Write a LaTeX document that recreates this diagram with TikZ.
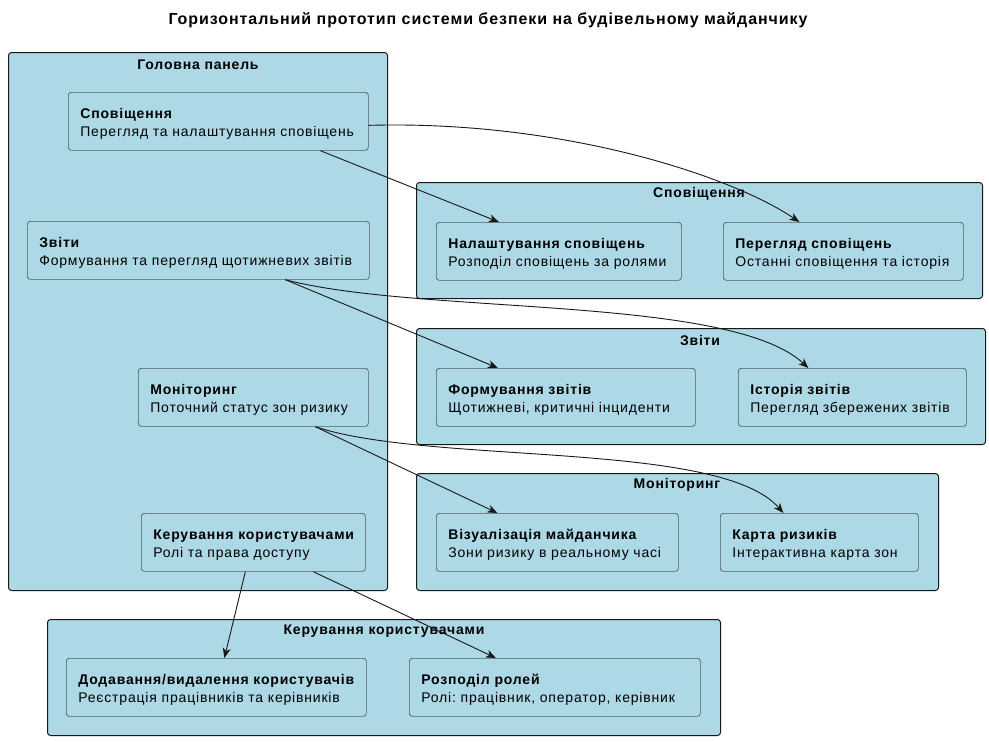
\documentclass[tikz,border=0pt]{standalone}
\usepackage{fontspec}
\setmainfont{Liberation Sans}[LetterSpace=5.8]
\usetikzlibrary{arrows.meta}
\definecolor{panelblue}{HTML}{ADD8E6}
\definecolor{edgegray}{HTML}{181818}
\definecolor{boxgray}{HTML}{4F5B61}
\newcommand{\boxlines}[2]{\mbox{\rule{0pt}{15pt}\textbf{#1}}\\\mbox{#2}}
\frenchspacing

\begin{document}
\begin{tikzpicture}[x=1pt, y=-1pt,
	every node/.style={font=\fontsize{14}{18}\selectfont},
	group/.style={draw=edgegray, line width=1pt, fill=panelblue, rounded corners=3pt, anchor=north west, inner sep=0pt},
	grouptitle/.style={font=\fontsize{14}{18}\selectfont\bfseries, anchor=center},
	item/.style={draw=boxgray, line width=0.7pt, fill=panelblue, rounded corners=3pt, anchor=north west, align=left, inner xsep=12pt, inner ysep=0pt, minimum height=58pt},
	link/.style={draw=edgegray, line width=0.9pt, -{Stealth[length=10pt, width=8pt, inset=3pt]}}]
			\useasboundingbox (0,0) rectangle (989,742);
			\node[grouptitle, font=\fontsize{16}{18}\selectfont\bfseries] (title) at (488,20) {Горизонтальний прототип системи безпеки на будівельному майданчику};
			% main panel
			\node[group, minimum width=379pt, minimum height=538pt] (main) at (8,52) {};
			\node[grouptitle] (mainT) at (198,65) {Головна панель};
			\node[item, text width=276pt] (notif) at (68,92) {\boxlines{Сповіщення}{Перегляд та налаштування сповіщень}};
			\node[item, text width=318pt] (reports) at (27,221) {\boxlines{Звіти}{Формування та перегляд щотижневих звітів}};
			\node[item, text width=206pt] (monitor) at (138,368) {\boxlines{Моніторинг}{Поточний статус зон ризику}};
			\node[item, text width=200pt] (users) at (141,513) {\boxlines{Керування користувачами}{Ролі та права доступу}};
			% notifications
			\node[group, minimum width=566pt, minimum height=116pt] (gNotif) at (416,182) {};
			\node[grouptitle] (gNotifT) at (699,194) {Сповіщення};
			\node[item, text width=221pt] (notifSet) at (436,222) {\boxlines{Налаштування сповіщень}{Розподіл сповіщень за ролями}};
			\node[item, text width=216pt] (notifView) at (723,222) {\boxlines{Перегляд сповіщень}{Останні сповіщення та історія}};
			% reports
			\node[group, minimum width=569pt, minimum height=116pt] (gReports) at (416,328) {};
			\node[grouptitle] (gReportsT) at (700,340) {Звіти};
			\node[item, text width=235pt] (repMake) at (436,368) {\boxlines{Формування звітів}{Щотижневі, критичні інциденти}};
			\node[item, text width=204pt] (repHist) at (738,368) {\boxlines{Історія звітів}{Перегляд збережених звітів}};
			% monitoring
			\node[group, minimum width=522pt, minimum height=117pt] (gMonitor) at (416,473) {};
			\node[grouptitle] (gMonitorT) at (677,485) {Моніторинг};
			\node[item, text width=218pt] (monVis) at (436,513) {\boxlines{Візуалізація майданчика}{Зони ризику в реальному часі}};
			\node[item, text width=174pt] (monMap) at (720,513) {\boxlines{Карта ризиків}{Інтерактивна карта зон}};
			% users
			\node[group, minimum width=673pt, minimum height=116pt] (gUsers) at (47,619) {};
			\node[grouptitle] (gUsersT) at (384,631) {Керування користувачами};
			\node[item, text width=276pt] (usrAdd) at (66,658) {\boxlines{Додавання/видалення користувачів}{Реєстрація працівників та керівників}};
			\node[item, text width=267pt] (usrRoles) at (409,658) {\boxlines{Розподіл ролей}{Ролі: працівник, оператор, керівник}};
			% links
			\draw[link] ([xshift=102pt]notif.south) -- ([xshift=-60pt]notifSet.north);
			\draw[link] ([yshift=-4pt]notif.east) .. controls (560,120) and (730,175) .. ([xshift=-44pt]notifView.north);
			\draw[link] ([xshift=87pt]reports.south) -- ([xshift=-68pt]repMake.north);
			\draw[link] ([xshift=87pt]reports.south) .. controls (420,315) and (730,295) .. ([xshift=-44pt]repHist.north);
			\draw[link] ([xshift=62pt]monitor.south) -- ([xshift=-60pt]monVis.north);
			\draw[link] ([xshift=62pt]monitor.south) .. controls (430,465) and (720,440) .. ([xshift=-36pt]monMap.north);
			\draw[link] ([xshift=-8pt]users.south) -- ([xshift=8pt]usrAdd.north);
			\draw[link] ([xshift=60pt]users.south) -- ([xshift=-59pt]usrRoles.north);
\end{tikzpicture}
\end{document}
